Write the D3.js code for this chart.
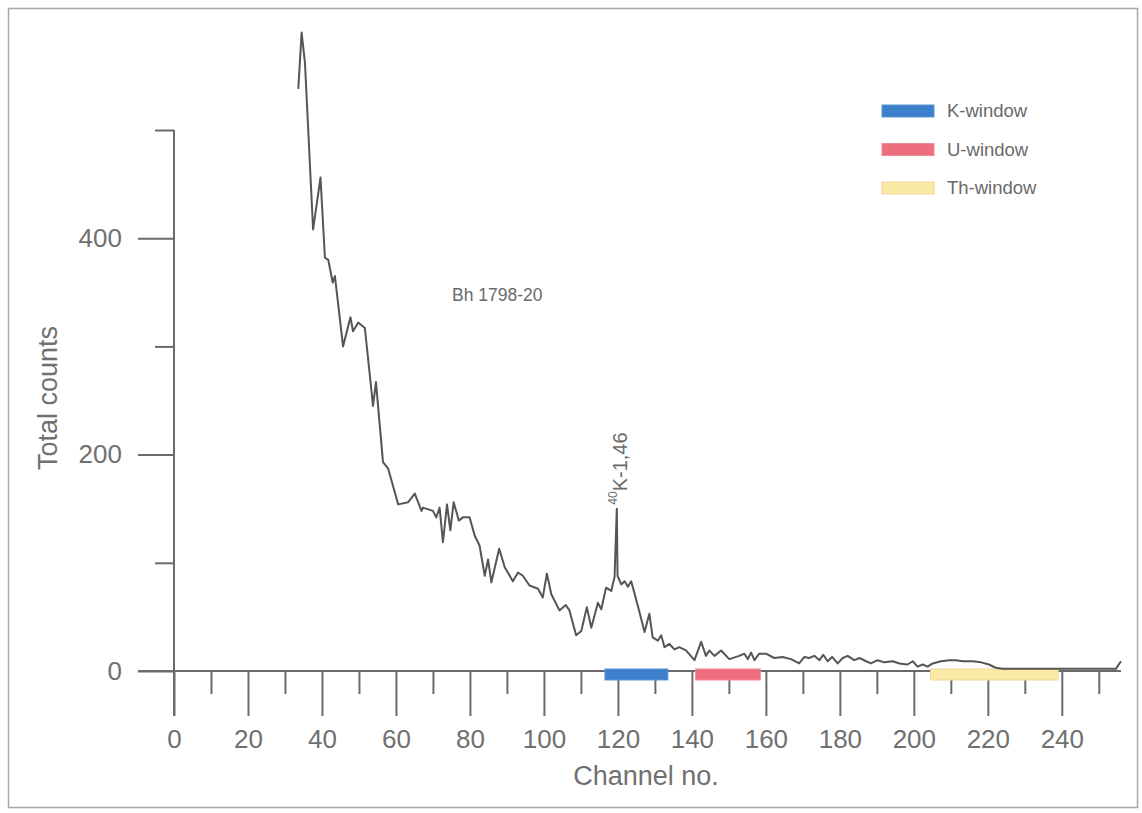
<!DOCTYPE html>
<html>
<head>
<meta charset="utf-8">
<script src="https://cdn.jsdelivr.net/npm/d3@7"></script>
<style>
  body { margin: 0; background: #fff; }
  svg { display: block; font-family: "Liberation Sans", Arial, sans-serif; }
</style>
</head>
<body>
<div id="chart"></div>
<script>
// spectrum vertices (channel, total counts)
const channels = [33.6, 34.5, 35.4, 37.6, 39.6, 40.8, 41.7, 42.9, 43.5, 45.7, 47.7, 48.4, 49.8, 51.6, 53.8, 54.6, 56.5, 57.9, 58.3,
  60.6, 63.3, 65.1, 66.9, 67.3, 70, 70.9, 71.8, 72.7, 73.8, 74.7, 75.6, 77, 78.1, 79.9, 81.3, 82.6, 84, 84.9, 85.8, 87.9, 89.4,
  91.6, 93, 94.3, 96.1, 98.4, 99.7, 100.8, 102, 104.2, 105.9, 106.9, 108.7, 110.1, 111.6, 112.8, 114.6, 115.5, 116.8, 118.2,
  119.1, 119.7, 119.9, 120.9, 121.8, 122.7, 123.6, 125.4, 127.2, 128.5, 129.4, 130.8, 131.7, 132.6, 133.9, 135.3, 136.6, 138.4,
  140.7, 142.5, 143.8, 144.7, 146.1, 147.9, 150.1, 152.8, 154.2, 155.1, 156, 156.9, 158.2, 160, 162.3, 164.5, 166.8, 169, 170.4,
  171.7, 173.1, 174.5, 175.5, 176.7, 177.9, 179.4, 180.8, 182.1, 183.9, 185.3, 187.1, 188.4, 190.2, 192, 194.3, 196.1, 198.3,
  199.7, 201, 202.4, 203.7, 205.1, 207.3, 209.6, 211.4, 213.2, 215.9, 218.2, 220.3, 222.1, 224, 240, 254.6, 256];
const counts = [538, 590, 562, 408, 456, 382, 380, 359, 365, 300, 327, 314, 322, 317, 245, 267, 193, 187, 182,
  154, 156, 164, 148, 151, 148, 142, 151, 119, 154, 130, 156, 139, 142, 142, 125, 116, 88, 103, 82, 113, 96,
  83, 91, 88, 79, 76, 68, 90, 71, 56, 61, 56, 33, 37, 59, 40, 63, 57, 77, 74,
  87, 150, 88, 80, 83, 78, 83, 60, 36, 53, 31, 28, 33, 22, 25, 20, 22, 19,
  10, 27, 14, 19, 14, 19, 11, 14, 16, 11, 17, 10, 16, 16, 12, 13, 11, 7, 13,
  12, 14, 10, 15, 9, 13, 7, 12, 14, 10, 12, 9, 7, 10, 8, 9, 7, 6,
  9, 4, 6, 4, 7, 9, 10, 10, 9, 9, 8, 6, 3, 2, 2, 2, 9];

const xMajor = [0, 20, 40, 60, 80, 100, 120, 140, 160, 180, 200, 220, 240];
const xMinor = [10, 30, 50, 70, 90, 110, 130, 150, 170, 190, 210, 230, 250];
const yMajor = [0, 200, 400];
const yMinor = [100, 300, 500];

const windowNames = ["K-window", "U-window", "Th-window"];
const windowStart = [116.5, 141, 204.5];
const windowEnd = [133.5, 158.5, 239];
const windowFill = ["#3c7fcb", "#ef6e7e", "#fbeaa6"];
const windowStroke = ["#5a95d6", "#f08a96", "#f2d39c"];

const width = 1142, height = 813;
const grey = "#6a6a6a";

const svg = d3.select("#chart").append("svg")
  .attr("width", width)
  .attr("height", height);

// outer frame
svg.append("rect")
  .attr("x", 8.5).attr("y", 8.5)
  .attr("width", 1129).attr("height", 799)
  .attr("fill", "none")
  .attr("stroke", "#a8a8a8")
  .attr("stroke-width", 1.5);

const x = d3.scaleLinear().domain([0, 256]).range([174, 1121]);
const y = d3.scaleLinear().domain([0, 500]).range([671, 130]);

// x axis
const xAxis = svg.append("g").attr("transform", `translate(0,${y(0)})`);
xAxis.append("g")
  .call(d3.axisBottom(x).tickValues(xMajor).tickSize(45).tickPadding(14).tickFormat(d3.format("d")))
  .call(g => g.select(".domain").remove());
xAxis.append("g")
  .call(d3.axisBottom(x).tickValues(xMinor).tickSize(23).tickFormat(""))
  .call(g => g.select(".domain").remove());
xAxis.append("line")
  .attr("x1", 138).attr("x2", x(256))
  .attr("stroke", grey).attr("stroke-width", 2);

// y axis
const yAxis = svg.append("g").attr("transform", `translate(${x(0)},0)`);
yAxis.append("g")
  .call(d3.axisLeft(y).tickValues(yMajor).tickSize(36).tickPadding(16).tickFormat(d3.format("d")))
  .call(g => g.select(".domain").remove());
yAxis.append("g")
  .call(d3.axisLeft(y).tickValues(yMinor).tickSize(19).tickFormat(""))
  .call(g => g.select(".domain").remove());
yAxis.append("line")
  .attr("y1", y(500)).attr("y2", y(0) + 45)
  .attr("stroke", grey).attr("stroke-width", 2);

svg.selectAll(".tick line").attr("stroke", grey).attr("stroke-width", 2);
svg.selectAll(".tick text")
  .attr("fill", "#707070")
  .attr("font-size", 26)
  .attr("font-family", "Liberation Sans, Arial, sans-serif");

// axis titles
svg.append("text")
  .attr("x", 646).attr("y", 785)
  .attr("text-anchor", "middle")
  .attr("font-size", 27)
  .attr("fill", "#707070")
  .text("Channel no.");

svg.append("text")
  .attr("transform", "translate(57,398) rotate(-90)")
  .attr("text-anchor", "middle")
  .attr("font-size", 27)
  .attr("fill", "#707070")
  .text("Total counts");

// energy windows on the channel axis
svg.append("g").selectAll("rect")
  .data(windowNames)
  .join("rect")
  .attr("x", (d, i) => x(windowStart[i]))
  .attr("width", (d, i) => x(windowEnd[i]) - x(windowStart[i]))
  .attr("y", y(0) - 2)
  .attr("height", 11)
  .attr("fill", (d, i) => windowFill[i])
  .attr("stroke", (d, i) => windowStroke[i])
  .attr("stroke-width", 1);

// spectrum
const line = d3.line()
  .x((d, i) => x(channels[i]))
  .y(d => y(d));

svg.append("path")
  .datum(counts)
  .attr("d", line)
  .attr("fill", "none")
  .attr("stroke", "#555")
  .attr("stroke-width", 2)
  .attr("stroke-linejoin", "round");

// sample label
svg.append("text")
  .attr("x", 452).attr("y", 301)
  .attr("font-size", 17.5)
  .attr("fill", grey)
  .text("Bh 1798-20");

// peak label
const peakIdx = counts.indexOf(150);
const peak = svg.append("text")
  .attr("transform", `translate(${x(channels[peakIdx]) + 10},${y(counts[peakIdx]) - 4}) rotate(-90)`)
  .attr("fill", grey)
  .attr("font-size", 20);
peak.append("tspan").attr("font-size", 12).attr("dy", -10).text("40");
peak.append("tspan").attr("dy", 10).text("K-1,46");

// legend
const legend = svg.append("g").selectAll("g")
  .data(windowNames)
  .join("g")
  .attr("transform", (d, i) => `translate(882,${105 + i * 38.5})`);
legend.append("rect")
  .attr("width", 52).attr("height", 12)
  .attr("fill", (d, i) => windowFill[i])
  .attr("stroke", (d, i) => windowStroke[i]);
legend.append("text")
  .attr("x", 65).attr("y", 6)
  .attr("dy", "0.35em")
  .attr("font-size", 18.5)
  .attr("fill", grey)
  .text(d => d);
</script>
</body>
</html>
